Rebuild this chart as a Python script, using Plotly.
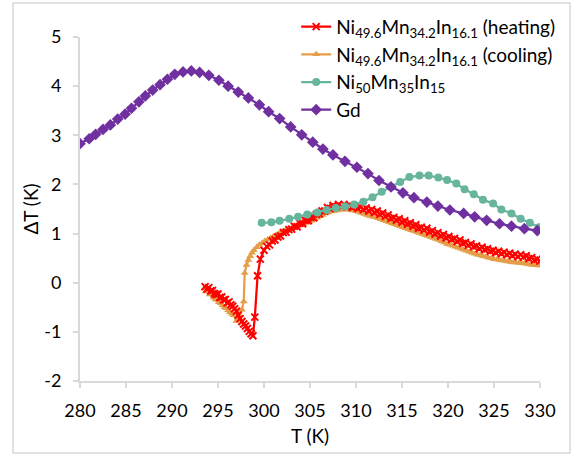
import plotly.graph_objects as go

# ---------------- data ----------------
T_heat = [293.6, 293.8, 294.0, 294.2, 294.4, 294.6, 294.8, 295.0, 295.2, 295.4,
          295.6, 295.8, 296.0, 296.2, 296.4, 296.6, 296.8, 297.0, 297.2, 297.4,
          297.6, 297.8, 298.0, 298.2, 298.4, 298.6, 298.8, 299.0, 299.3, 299.6,
          300.0, 300.3, 300.6, 300.9, 301.2, 301.5, 301.8, 302.1, 302.4, 302.7,
          303.0, 303.3, 303.6, 303.9, 304.2, 304.5, 304.8, 305.1, 305.4, 305.7,
          306.0, 306.3, 306.6, 306.9, 307.2, 307.5, 307.8, 308.1, 308.4, 308.7,
          309.0, 309.3, 309.6, 309.9, 310.2, 310.5, 310.8, 311.1, 311.4, 311.7,
          312.0, 312.3, 312.6, 312.9, 313.2, 313.5, 313.8, 314.1, 314.4, 314.7,
          315.0, 315.3, 315.6, 315.9, 316.2, 316.5, 316.8, 317.1, 317.4, 317.7,
          318.0, 318.3, 318.6, 318.9, 319.2, 319.5, 319.8, 320.1, 320.4, 320.7,
          321.0, 321.3, 321.6, 321.9, 322.2, 322.5, 322.8, 323.1, 323.4, 323.7,
          324.0, 324.3, 324.6, 324.9, 325.2, 325.5, 325.8, 326.1, 326.4, 326.7,
          327.0, 327.3, 327.6, 327.9, 328.2, 328.5, 328.8, 329.1, 329.4, 329.7,
          330.0]
dT_heat = [-0.08, -0.13, -0.10, -0.17, -0.16, -0.22, -0.24, -0.23, -0.30, -0.29,
           -0.35, -0.34, -0.41, -0.39, -0.45, -0.48, -0.53, -0.58, -0.66, -0.73,
           -0.79, -0.84, -0.88, -0.93, -0.99, -1.04, -1.08, -0.70, 0.14, 0.48,
           0.66, 0.74, 0.77, 0.85, 0.87, 0.93, 0.95, 1.02, 1.03, 1.08,
           1.09, 1.15, 1.14, 1.21, 1.20, 1.27, 1.26, 1.33, 1.32, 1.39,
           1.40, 1.46, 1.46, 1.53, 1.51, 1.57, 1.54, 1.59, 1.55, 1.59,
           1.55, 1.58, 1.53, 1.56, 1.51, 1.54, 1.49, 1.52, 1.46, 1.49,
           1.43, 1.46, 1.39, 1.42, 1.35, 1.38, 1.31, 1.33, 1.27, 1.30,
           1.23, 1.26, 1.19, 1.22, 1.15, 1.18, 1.11, 1.13, 1.07, 1.11,
           1.03, 1.06, 0.99, 1.02, 0.95, 0.98, 0.91, 0.94, 0.88, 0.90,
           0.84, 0.87, 0.80, 0.82, 0.76, 0.79, 0.73, 0.75, 0.69, 0.72,
           0.67, 0.69, 0.64, 0.66, 0.61, 0.64, 0.59, 0.62, 0.57, 0.60,
           0.55, 0.58, 0.53, 0.57, 0.52, 0.55, 0.49, 0.51, 0.46, 0.48,
           0.44]

T_cool = [293.5, 293.7, 293.9, 294.1, 294.3, 294.5, 294.7, 294.9, 295.1, 295.3,
          295.5, 295.7, 295.9, 296.1, 296.3, 296.5, 296.7, 297.0, 297.3, 297.6,
          297.8, 297.9, 298.1, 298.3, 298.5, 298.7, 298.9, 299.2, 299.5, 299.8,
          300.1, 300.4, 300.7, 301.0, 301.3, 301.6, 301.9, 302.2, 302.5, 302.8,
          303.1, 303.4, 303.7, 304.0, 304.3, 304.6, 304.9, 305.2, 305.5, 305.8,
          306.1, 306.4, 306.7, 307.0, 307.3, 307.6, 307.9, 308.2, 308.5, 308.8,
          309.1, 309.4, 309.7, 310.0, 310.3, 310.6, 310.9, 311.2, 311.5, 311.8,
          312.1, 312.4, 312.7, 313.0, 313.3, 313.6, 313.9, 314.2, 314.5, 314.8,
          315.1, 315.4, 315.7, 316.0, 316.3, 316.6, 316.9, 317.2, 317.5, 317.8,
          318.1, 318.4, 318.7, 319.0, 319.3, 319.6, 319.9, 320.2, 320.5, 320.8,
          321.1, 321.4, 321.7, 322.0, 322.3, 322.6, 322.9, 323.2, 323.5, 323.8,
          324.1, 324.4, 324.7, 325.0, 325.3, 325.6, 325.9, 326.2, 326.5, 326.8,
          327.1, 327.4, 327.7, 328.0, 328.3, 328.6, 328.9, 329.2, 329.5, 329.8,
          330.0]
dT_cool = [-0.12, -0.18, -0.16, -0.24, -0.22, -0.30, -0.33, -0.35, -0.40, -0.42,
           -0.46, -0.50, -0.52, -0.56, -0.60, -0.63, -0.66, -0.78, -0.65, -0.55,
           -0.38, 0.20, 0.36, 0.46, 0.54, 0.61, 0.66, 0.72, 0.77, 0.81,
           0.85, 0.88, 0.91, 0.94, 0.97, 1.00, 1.03, 1.05, 1.08, 1.10,
           1.12, 1.14, 1.16, 1.18, 1.20, 1.22, 1.24, 1.26, 1.29, 1.32,
           1.35, 1.38, 1.41, 1.43, 1.45, 1.46, 1.47, 1.48, 1.49, 1.49,
           1.49, 1.48, 1.47, 1.46, 1.44, 1.42, 1.40, 1.38, 1.36, 1.34,
           1.33, 1.31, 1.29, 1.27, 1.25, 1.23, 1.21, 1.19, 1.17, 1.15,
           1.13, 1.11, 1.09, 1.07, 1.05, 1.03, 1.01, 0.99, 0.97, 0.95,
           0.93, 0.91, 0.89, 0.87, 0.84, 0.82, 0.79, 0.77, 0.75, 0.73,
           0.71, 0.69, 0.67, 0.65, 0.63, 0.61, 0.59, 0.57, 0.56, 0.54,
           0.53, 0.51, 0.50, 0.48, 0.47, 0.46, 0.45, 0.44, 0.43, 0.42,
           0.41, 0.41, 0.40, 0.40, 0.39, 0.38, 0.37, 0.36, 0.36, 0.35,
           0.35]

T_ni50 = [299.75, 300.8, 301.7, 302.75, 303.7, 304.7, 305.8, 306.8, 307.8, 308.8,
          309.8, 310.8, 311.8, 312.8, 313.8, 314.8, 315.8, 316.9, 317.9, 318.95,
          319.9, 320.9, 321.8, 322.8, 323.8, 324.9, 325.8, 326.9, 327.9, 328.9,
          329.9]
dT_ni50 = [1.22, 1.23, 1.26, 1.30, 1.34, 1.39, 1.43, 1.48, 1.52, 1.55,
           1.59, 1.65, 1.74, 1.85, 1.95, 2.05, 2.15, 2.18, 2.18, 2.14,
           2.09, 2.02, 1.90, 1.80, 1.69, 1.61, 1.49, 1.41, 1.30, 1.22,
           1.13]

T_gd = [280.0, 281.0, 281.7, 282.5, 283.3, 284.1, 284.9, 285.6, 286.4, 287.1,
        287.9, 288.7, 289.5, 290.3, 291.2, 292.1, 293.0, 294.0, 295.1, 296.1,
        297.2, 298.3, 299.5, 300.5, 301.7, 302.9, 304.1, 305.3, 306.4, 307.5,
        308.8, 310.1, 311.3, 312.5, 313.8, 315.1, 316.3, 317.7, 318.9, 320.2,
        321.7, 322.9, 324.2, 325.6, 326.9, 328.3, 329.7]
dT_gd = [2.83, 2.93, 3.02, 3.12, 3.21, 3.33, 3.43, 3.55, 3.68, 3.80,
         3.92, 4.03, 4.14, 4.24, 4.29, 4.31, 4.28, 4.22, 4.12, 4.00,
         3.88, 3.76, 3.62, 3.48, 3.34, 3.17, 3.01, 2.86, 2.72, 2.60,
         2.47, 2.35, 2.22, 2.08, 1.95, 1.83, 1.73, 1.64, 1.56, 1.48,
         1.41, 1.34, 1.27, 1.20, 1.15, 1.10, 1.06]

x_ticks = [280, 285, 290, 295, 300, 305, 310, 315, 320, 325, 330]
y_ticks = [-2, -1, 0, 1, 2, 3, 4, 5]

names = ["Ni<sub>49.6</sub>Mn<sub>34.2</sub>In<sub>16.1</sub> (heating)",
         "Ni<sub>49.6</sub>Mn<sub>34.2</sub>In<sub>16.1</sub> (cooling)",
         "Ni<sub>50</sub>Mn<sub>35</sub>In<sub>15</sub>",
         "Gd"]

c_red = "#FF0000"
c_orange = "#E59D47"
c_teal = "#68B59D"
c_purple = "#7030A0"

# ---------------- figure ----------------
fig = go.Figure()
fig.add_trace(go.Scatter(x=T_cool, y=dT_cool, mode="lines+markers", name=names[1],
                         legendrank=2,
                         line=dict(color=c_orange, width=2.25),
                         marker=dict(symbol="triangle-up", size=7, color=c_orange)))
fig.add_trace(go.Scatter(x=T_heat, y=dT_heat, mode="lines+markers", name=names[0],
                         legendrank=1,
                         line=dict(color=c_red, width=2.25),
                         marker=dict(symbol="x-thin", size=7, color=c_red,
                                     line=dict(color=c_red, width=2))))
fig.add_trace(go.Scatter(x=T_ni50, y=dT_ni50, mode="lines+markers", name=names[2],
                         legendrank=3,
                         line=dict(color=c_teal, width=2.25),
                         marker=dict(symbol="circle", size=8, color=c_teal)))
fig.add_trace(go.Scatter(x=T_gd, y=dT_gd, mode="lines+markers", name=names[3],
                         legendrank=4,
                         line=dict(color=c_purple, width=2.25),
                         marker=dict(symbol="diamond", size=9, color=c_purple)))

axis_common = dict(showgrid=False, zeroline=False, showline=True,
                   linecolor="#D9D9D9", linewidth=2, ticks="outside",
                   ticklen=5, tickwidth=1.5, tickcolor="#D9D9D9",
                   tickfont=dict(family="Lato", size=18, color="#000000"))

fig.update_xaxes(range=[280, 330], tickvals=x_ticks, ticktext=[str(v) for v in x_ticks],
                 ticklabelstandoff=7,
                 title=dict(text="T (K)", font=dict(family="Lato", size=19, color="#000000"),
                            standoff=10),
                 **axis_common)
fig.update_yaxes(range=[-2, 5], tickvals=y_ticks, ticktext=[str(v) for v in y_ticks],
                 ticklabelstandoff=8,
                 title=dict(text="ΔT (K)", font=dict(family="Lato", size=19, color="#000000"),
                            standoff=1),
                 **axis_common)

fig.update_layout(
    width=574, height=456,
    margin=dict(l=80, r=34, t=37, b=75, autoexpand=False),
    paper_bgcolor="white", plot_bgcolor="white",
    font=dict(family="Lato", color="#000000"),
    legend=dict(x=0.47, y=1.085, xanchor="left", yanchor="top",
                bgcolor="rgba(0,0,0,0)", font=dict(family="Lato", size=19, color="#000000"),
                tracegroupgap=0),
    shapes=[dict(type="rect", xref="paper", yref="paper",
                 x0=-67 / 460, x1=490 / 460, y0=-72 / 344, y1=378 / 344,
                 line=dict(color="#D9D9D9", width=1.5), fillcolor="rgba(0,0,0,0)",
                 layer="below")],
)

fig.write_html("out.html")
